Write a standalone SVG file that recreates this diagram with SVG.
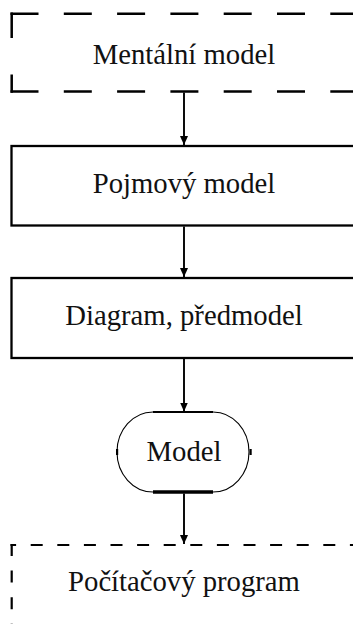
<svg xmlns="http://www.w3.org/2000/svg" width="353" height="624" viewBox="0 0 353 624">
<style>
.lbl{font-family:"Liberation Serif","Times New Roman",serif;font-size:28.7px;fill:#111;text-anchor:middle}
.solid{fill:none;stroke:#000;stroke-width:2.3}
.dash1{fill:none;stroke:#000;stroke-width:2.5;stroke-dasharray:28 25.3}
.dash2{fill:none;stroke:#000;stroke-width:2.2;stroke-dasharray:12 14.6}
.conn{fill:none;stroke:#000;stroke-width:1.9;marker-end:url(#ah)}
</style>
<defs>
<marker id="ah" markerWidth="9" markerHeight="10" refX="9" refY="4" orient="auto" markerUnits="userSpaceOnUse" viewBox="0 0 9 8">
<path d="M0,0 L9,4 L0,8 Z" fill="#000"/>
</marker>
</defs>
<rect width="353" height="624" fill="#fff"/>
<g id="mentalni">
<line class="dash1" x1="10.5" y1="13.8" x2="360" y2="13.8"/>
<line class="dash1" x1="10.5" y1="91.5" x2="360" y2="91.5"/>
<line class="dash1" x1="11.7" y1="12.5" x2="11.7" y2="92.8" style="stroke-dasharray:25.5 36.5"/>
<text class="lbl" x="184" y="63.5">Mentální model</text>
</g>
<g id="pojmovy">
<rect class="solid" x="11.5" y="146" width="347" height="79.5"/>
<text class="lbl" x="184" y="192.5">Pojmový model</text>
</g>
<g id="diagram">
<rect class="solid" x="11.5" y="278" width="347" height="80"/>
<text class="lbl" x="184" y="324.5">Diagram, předmodel</text>
</g>
<g id="model">
<path d="M153,412 A36,40 0 0 0 153,492 M213,412 A36,40 0 0 1 213,492" fill="none" stroke="#000" stroke-width="1.1"/>
<line x1="153" y1="412" x2="213" y2="412" stroke="#000" stroke-width="2"/>
<line x1="153" y1="492" x2="213" y2="492" stroke="#000" stroke-width="3.4"/>
<rect x="116" y="449" width="2.2" height="6" fill="#000"/>
<rect x="249.5" y="449" width="2.2" height="6" fill="#000"/>
<text class="lbl" x="184" y="461">Model</text>
</g>
<g id="program">
<line class="dash2" x1="10.5" y1="545" x2="360" y2="545" style="stroke-dashoffset:6.4"/>
<line class="dash2" x1="11.7" y1="544" x2="11.7" y2="630"/>
<text class="lbl" x="184" y="590.5">Počítačový program</text>
</g>
<g id="connectors">
<line class="conn" x1="184" y1="92.5" x2="184" y2="145"/>
<line class="conn" x1="184" y1="226.5" x2="184" y2="277"/>
<line class="conn" x1="184" y1="359" x2="184" y2="411.5"/>
<line class="conn" x1="184" y1="493.5" x2="184" y2="544"/>
</g>
</svg>
